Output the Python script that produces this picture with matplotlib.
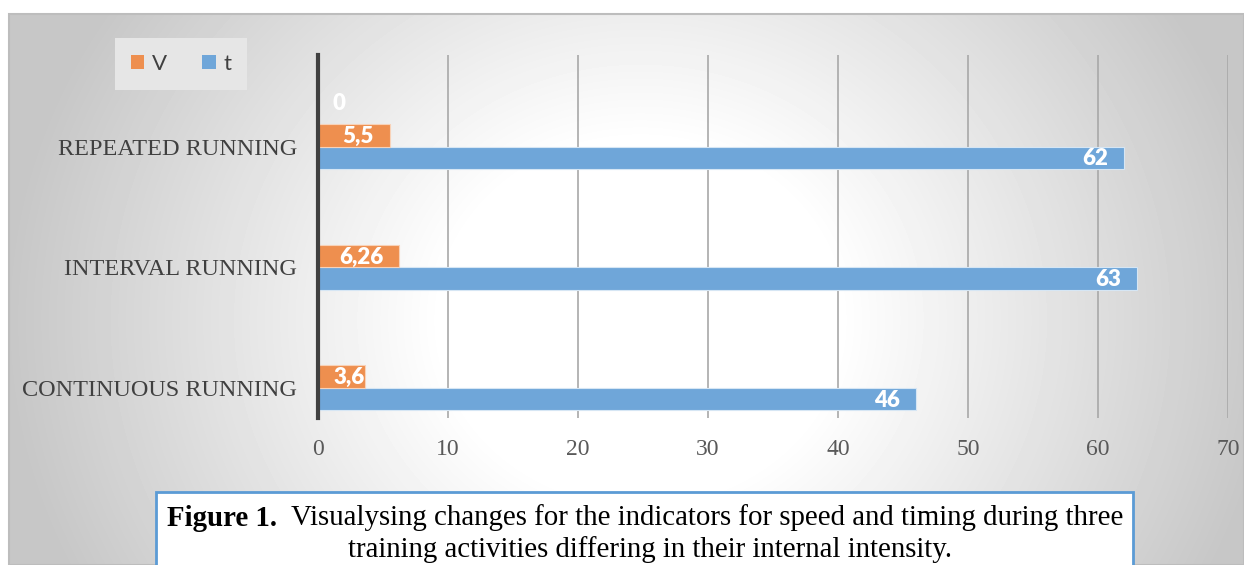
import numpy as np
import matplotlib
matplotlib.use("Agg")
import matplotlib.pyplot as plt
from matplotlib.patches import Rectangle

# ---- data ----
categories = ["CONTINUOUS RUNNING", "INTERVAL RUNNING", "REPEATED RUNNING"]
v_values = [3.6, 6.26, 5.5]
t_values = [46, 63, 62]
extra_values = [np.nan, np.nan, 0]   # hidden third series, only its "0" label shows
series_names = ["V", "t"]
xticks = [0, 10, 20, 30, 40, 50, 60, 70]

ORANGE = "#EE8F4F"
BLUE = "#6FA6D9"
W, H = 1244, 565

fig = plt.figure(figsize=(W / 100, H / 100), dpi=100)
fig.patch.set_facecolor("white")

# ---- radial grey background ----
bg = fig.add_axes([9 / W, 0, 1 - 9 / W, 1 - 14 / H])
xx, yy = np.meshgrid(np.arange(9, W), np.arange(14, H))
d = np.sqrt(((xx - 640) / 620.0) ** 2 + ((yy - 320) / 560.0) ** 2)
val = 1 - 0.22 * np.clip((d - 0.32) / 0.7, 0, 1)
bg.imshow(val, cmap="gray", vmin=0, vmax=1, aspect="auto", interpolation="bilinear")
bg.set_axis_off()
fig.add_artist(Rectangle((9 / W, 0), 1 - 9 / W, 1 - 14 / H, transform=fig.transFigure,
                         fill=False, edgecolor="#BDBDBD", lw=1.5))

# ---- main chart ----
ax = fig.add_axes([318 / W, 1 - 418 / H, (1228 - 318) / W, (418 - 55) / H])
ax.set_facecolor("none")
y = np.arange(len(categories))
h = 0.186

bars_t = ax.barh(y - h / 2, t_values, height=h, color=BLUE, edgecolor="#D6E6F4", lw=0.8, zorder=3, label="t")
bars_v = ax.barh(y + h / 2, v_values, height=h, color=ORANGE, edgecolor="#F8D2B8", lw=0.8, zorder=3, label="V")

ax.set_xlim(0, 70)
ax.set_ylim(-0.25, 2.76)
ax.set_xticks(xticks)
ax.set_yticks(y)
ax.set_yticklabels(categories)
ax.tick_params(length=0)
ax.tick_params(axis="x", pad=15, labelsize=17, labelcolor="#595959")
ax.tick_params(axis="y", pad=15, labelsize=17.5, labelcolor="#404040")
for lab in ax.get_xticklabels() + ax.get_yticklabels():
    lab.set_family("Liberation Serif")
for s in ["top", "right", "bottom"]:
    ax.spines[s].set_visible(False)
ax.spines["left"].set_color("#404040")
ax.spines["left"].set_linewidth(3)
ax.spines["left"].set_zorder(5)
ax.grid(axis="x", color="#A8A8A8", lw=1.2, zorder=0)
ax.set_axisbelow(True)

# ---- bar labels (inside end) ----
renderer = fig.canvas.get_renderer()
px_per_unit = (1228 - 318) / 70.0
lab_font = dict(family=["Lato", "DejaVu Sans"], weight="heavy", size=16, color="white")
for bars, vals in [(bars_t, t_values), (bars_v, v_values)]:
    for b, v in zip(bars, vals):
        txt = f"{v:g}".replace(".", ",")
        yc = b.get_y() + b.get_height() / 2
        t = ax.annotate(txt, (v, yc), xytext=(-16, -1), textcoords="offset pixels",
                        ha="right", va="center", zorder=6, **lab_font)
        tw = t.get_window_extent(renderer).width
        bar_px = v * px_per_unit
        off = min(16, bar_px - tw - 16)
        t.set_position((-off, -1))

for yi, v in zip(y, extra_values):
    if not np.isnan(v):
        ax.annotate(f"{v:g}", (v, yi + 1.5 * h), xytext=(21, 10), textcoords="offset pixels",
                    ha="center", va="center", zorder=6, **lab_font)

# ---- legend ----
leg = fig.legend(handles=[bars_v, bars_t], labels=series_names, loc="center",
                 bbox_to_anchor=(181 / W, 1 - 64 / H), ncol=2, frameon=True,
                 handlelength=0.6, handleheight=0.6, handletextpad=0.35, columnspacing=1.6,
                 borderpad=0.7, prop=dict(family=["Lato", "DejaVu Sans"], size=16))
leg.get_frame().set_facecolor("#E6E6E6")
leg.get_frame().set_edgecolor("none")
leg.get_frame().set_alpha(1)
leg.get_frame().set_boxstyle("square", pad=0)
for tx in leg.get_texts():
    tx.set_color("#404040")
for hnd in leg.legend_handles:
    hnd.set_edgecolor("none")

# ---- caption box ----
fig.add_artist(Rectangle((156 / W, -0.05), (1133 - 156) / W, 0.05 + 1 - 492 / H,
                         transform=fig.transFigure, facecolor="white",
                         edgecolor="#5B9BD5", lw=2, zorder=10))
cap_font = dict(family="Liberation Serif", size=20.8, color="black", zorder=11)
line1_y = 1 - 518 / H
t_bold = fig.text(0, line1_y, "Figure 1.", weight="bold", va="center", ha="left", **cap_font)
t_rest = fig.text(0, line1_y, "  Visualysing changes for the indicators for speed and timing during three",
                  va="center", ha="left", **cap_font)
wb = t_bold.get_window_extent(renderer).width
wr = t_rest.get_window_extent(renderer).width
x0 = 645 - (wb + wr) / 2
t_bold.set_x(x0 / W)
t_rest.set_x((x0 + wb) / W)
fig.text(650 / W, 1 - 550 / H, "training activities differing in their internal intensity.",
         ha="center", va="center", **cap_font)

fig.savefig("out.png", dpi=100)
